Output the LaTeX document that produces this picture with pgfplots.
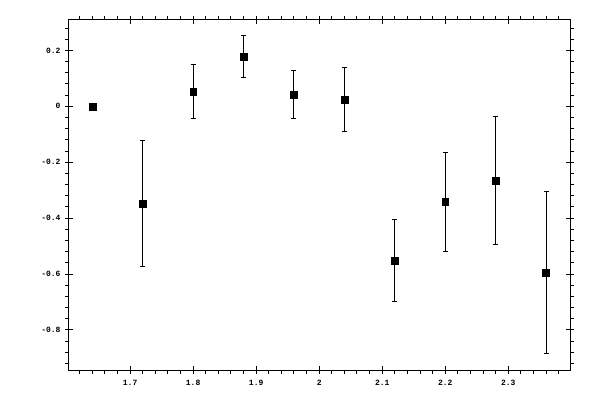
\documentclass[border=0pt]{standalone}
\usepackage{fontspec}
\setmonofont{Liberation Mono}
\usepackage{pgfplots}
\pgfplotsset{compat=1.18}
\begin{document}
\begin{tikzpicture}[x=1pt,y=1pt]
	% fix the page to the 600x400 frame of the reference
	\path[use as bounding box] (-69,-30) rectangle (531,370.5);
	\begin{axis}[
	at={(0,0)}, anchor=south west,
	scale only axis,
	width=501pt, height=350.5pt,
	xmin=1.603, xmax=2.398,
	ymin=-0.945, ymax=0.309,
	xtick={1.7,1.8,1.9,2,2.1,2.2,2.3},
	ytick={-0.8,-0.6,-0.4,-0.2,0,0.2},
	minor xtick={1.62,1.64,1.66,1.68,1.72,1.74,1.76,1.78,1.82,1.84,1.86,1.88,
		1.92,1.94,1.96,1.98,2.02,2.04,2.06,2.08,2.12,2.14,2.16,2.18,
		2.22,2.24,2.26,2.28,2.32,2.34,2.36,2.38},
	minor ytick={-0.92,-0.88,-0.84,-0.76,-0.72,-0.68,-0.64,-0.56,-0.52,-0.48,-0.44,
		-0.36,-0.32,-0.28,-0.24,-0.16,-0.12,-0.08,-0.04,0.04,0.08,0.12,0.16,0.24,0.28},
	% the same majors again, pointing inwards, so that they cross the frame
	extra x ticks={1.7,1.8,1.9,2,2.1,2.2,2.3},
	extra y ticks={-0.8,-0.6,-0.4,-0.2,0,0.2},
	extra x tick labels={}, extra y tick labels={},
	extra tick style={tick align=inside},
	xticklabel pos=left, yticklabel pos=left,
	tick align=outside,
	major tick length=4pt,
	minor tick length=3.5pt,
	every tick/.style={black, line width=1pt},
	axis line style={line width=1pt},
	/pgf/number format/assume math mode=true,
	ticklabel style={font=\ttfamily\bfseries\fontsize{8}{8}\selectfont},
	xticklabel style={yshift=-2pt},
	yticklabel style={xshift=-1pt},
	]
	\addplot+[black, only marks, mark=square*, mark size=3.4pt,
		mark options={fill=black},
		error bars/.cd, y dir=both, y explicit,
		error bar style={line width=1pt},
		error mark options={rotate=90, mark size=2.5pt, line width=1pt}]
	coordinates {
		(1.64, 0.000) +- (0, 0.000)
		(1.72,-0.348) +- (0, 0.225)
		(1.80, 0.053) +- (0, 0.098)
		(1.88, 0.177) +- (0, 0.075)
		(1.96, 0.042) +- (0, 0.086)
		(2.04, 0.024) +- (0, 0.114)
		(2.12,-0.551) +- (0, 0.147)
		(2.20,-0.341) +- (0, 0.177)
		(2.28,-0.266) +- (0, 0.228)
		(2.36,-0.594) +- (0, 0.290)
	};
	\end{axis}
\end{tikzpicture}
\end{document}
